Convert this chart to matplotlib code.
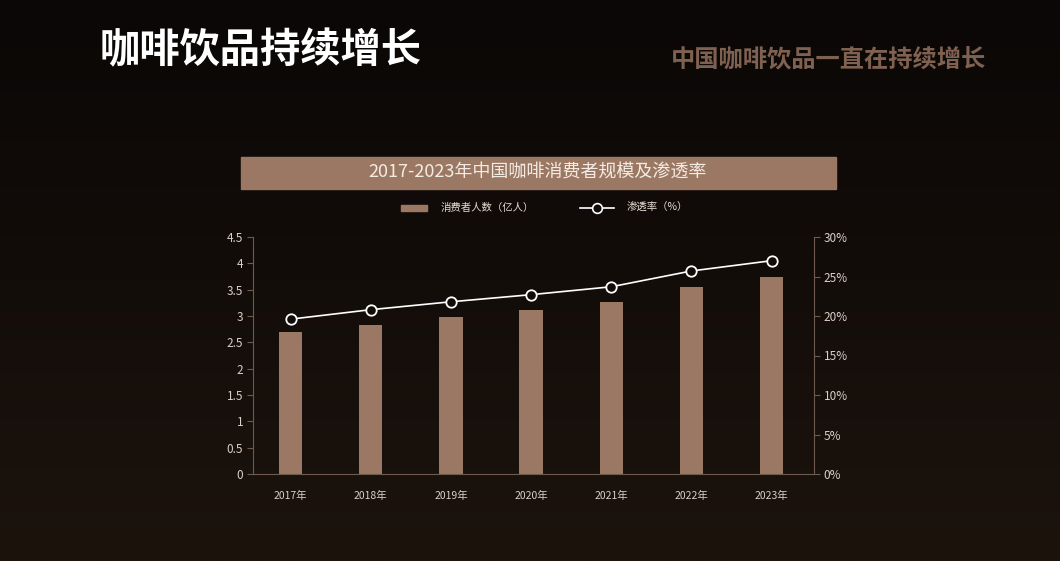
import matplotlib
matplotlib.use("Agg")
import matplotlib.pyplot as plt
import numpy as np
from matplotlib.patches import Rectangle
from matplotlib.lines import Line2D
from matplotlib.colors import LinearSegmentedColormap

plt.rcParams['font.family'] = ['Noto Sans CJK SC', 'DejaVu Sans']

years = ["2017年", "2018年", "2019年", "2020年", "2021年", "2022年", "2023年"]
consumers = [2.69, 2.83, 2.98, 3.11, 3.27, 3.55, 3.74]
penetration = [19.6, 20.8, 21.8, 22.7, 23.7, 25.7, 27.0]
left_ticks = [0, 0.5, 1, 1.5, 2, 2.5, 3, 3.5, 4, 4.5]
left_labels = ["0", "0.5", "1", "1.5", "2", "2.5", "3", "3.5", "4", "4.5"]
right_ticks = [0, 5, 10, 15, 20, 25, 30]
right_labels = ["0%", "5%", "10%", "15%", "20%", "25%", "30%"]

W, H = 1060, 561
fig = plt.figure(figsize=(W / 100, H / 100), dpi=100)

# background gradient
bg = fig.add_axes([0, 0, 1, 1])
grad = np.linspace(0, 1, 256).reshape(-1, 1)
cmap = LinearSegmentedColormap.from_list("bg", ["#0a0706", "#1c130d"])
bg.imshow(grad, aspect='auto', cmap=cmap, extent=[0, 1, 0, 1], origin='upper')
bg.set_xlim(0, 1)
bg.set_ylim(0, 1)
bg.axis('off')

def fx(px):
    return px / W

def fy(py):
    return 1 - py / H

# headings
fig.text(fx(100), fy(51), "咖啡饮品持续增长", color="white", fontsize=29,
         fontweight='bold', ha='left', va='center')
fig.text(fx(986), fy(60), "中国咖啡饮品一直在持续增长", color="#7f6151", fontsize=17.5,
         fontweight='bold', ha='right', va='center')

# title banner
bg.add_patch(Rectangle((fx(241), fy(189)), fx(836) - fx(241), fy(157) - fy(189),
                       color="#9b7863", zorder=2))
fig.text(fx(538), fy(173), "2017-2023年中国咖啡消费者规模及渗透率", color="#f4ece4",
         fontsize=13, ha='center', va='center')

# legend
bg.add_patch(Rectangle((fx(401), fy(211)), fx(427) - fx(401), fy(205) - fy(211),
                       color="#9b7863", zorder=2))
fig.text(fx(441), fy(208), "消费者人数（亿人）", color="#e6ddd5", fontsize=7.5,
         ha='left', va='center')
bg.add_line(Line2D([fx(580), fx(614)], [fy(208), fy(208)], color="white", lw=1.2,
                   zorder=3))
bg.plot([fx(597)], [fy(208)], marker='o', ms=7, mfc="#120c09", mec="white", mew=1.2,
        zorder=4)
fig.text(fx(627), fy(208), "渗透率（%）", color="#e6ddd5", fontsize=7.5,
         ha='left', va='center')

# main axes
x0, x1 = 253, 814
y0, y1 = 474, 237
ax = fig.add_axes([fx(x0), fy(y0), fx(x1) - fx(x0), fy(y1) - fy(y0)])
ax.patch.set_alpha(0)
x = np.arange(len(years))
ax.bar(x, consumers, width=0.29, color="#9b7863", zorder=2)
ax.set_xlim(-0.47, 6.53)
ax.set_ylim(0, 4.5)
ax.set_yticks(left_ticks)
ax.set_yticklabels(left_labels)
ax.set_xticks(x)
ax.set_xticklabels(years)
spine_c = "#6e5a4d"
for s in ['top', 'right']:
    ax.spines[s].set_visible(False)
ax.spines['left'].set_color(spine_c)
ax.spines['bottom'].set_color(spine_c)
ax.tick_params(axis='y', colors=spine_c, labelcolor="#d9d0c8", labelsize=8.5,
               length=4, direction='out', pad=3)
ax.tick_params(axis='x', length=0, labelcolor="#d9d0c8", labelsize=7.5, pad=12)

ax2 = ax.twinx()
ax2.plot(x, penetration, color="white", lw=1.2, marker='o', ms=7.5,
         mfc="#120c09", mec="white", mew=1.3, zorder=3)
ax2.set_ylim(0, 30)
ax2.set_yticks(right_ticks)
ax2.set_yticklabels(right_labels)
for s in ['top', 'left', 'bottom']:
    ax2.spines[s].set_visible(False)
ax2.spines['right'].set_color(spine_c)
ax2.tick_params(axis='y', colors=spine_c, labelcolor="#d9d0c8", labelsize=8.5,
                length=4, direction='out', pad=3)

fig.savefig("out.png", dpi=100)
